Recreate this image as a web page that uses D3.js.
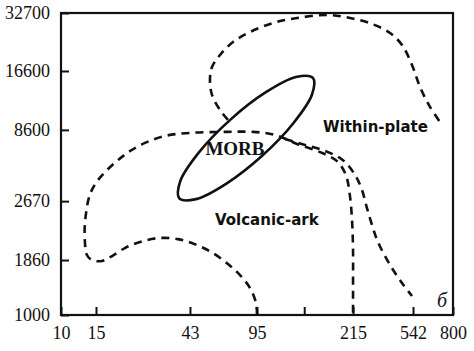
<!DOCTYPE html>
<html>
<head>
<meta charset="utf-8">
<script src="https://cdn.jsdelivr.net/npm/d3@7"></script>
<style>
  body { margin: 0; background: #fff; }
  svg { display: block; }
</style>
</head>
<body>
<div id="chart"></div>
<script>
// Tick values on both axes (the axes are stretched, not log)
const xTickValues = [10, 15, 43, 95, 154, 215, 542, 800];
const xTickLabels = ["10", "15", "43", "95", "", "215", "542", "800"];
const yTickValues = [1000, 1860, 2670, 8600, 16600, 32700];
const yTickLabels = ["1000", "1860", "2670", "8600", "16600", "32700"];

// Field boundaries, [x, y] in axis units
const volcanicArc = [[95, 1000], [94.2, 1188], [89.6, 1422], [81.8, 1625], [72.5, 1797], [60.9, 1956],
  [48.4, 2066], [39.4, 2148], [33.5, 2162], [28.1, 2107], [23.6, 2025], [19.8, 1915], [16.8, 1845],
  [14.4, 1860], [13.7, 1929], [13.4, 2135], [13.4, 2341], [13.6, 2519], [13.9, 2754], [14.4, 3589],
  [15.6, 4424], [18.3, 5256], [21.6, 6094], [25.2, 6846], [29.6, 7514], [35.6, 8099], [43, 8349],
  [71.7, 8433], [91.9, 8433], [117.5, 8180], [145, 7431], [173.75, 6750], [195, 5998], [206, 4842],
  [211, 3171], [213.75, 2406], [215, 1996], [215, 1547], [215, 1000]];
const outerArc = [[130, 7846], [155, 7347], [180, 6848], [202.5, 6081], [225.9, 4842], [264, 3589],
  [291, 2574], [318.6, 2341], [351, 2107], [416.7, 1782], [482, 1500], [536.5, 1297]];
const withinPlate = [[72.5, 9956], [66.3, 11312], [60.1, 13346], [58.5, 15380], [60.1, 17710],
  [66.3, 21041], [76.4, 24650], [89.6, 27426], [115, 29924], [145, 31312], [182.5, 32145],
  [211.25, 31312], [318.6, 29647], [416.7, 27148], [482, 23817], [536.5, 18266], [587, 14431],
  [651.7, 11719], [729, 9278]];
const morb = [[164.9, 15678], [163.6, 13373], [140.4, 9508], [101.4, 6445], [71.3, 4132],
  [47.7, 2837], [39.8, 2904], [40.1, 4324], [49.8, 6706], [74.0, 9929], [105.6, 13685], [143.6, 15786]];

// Field names: text, x, y (axis units), anchor
const fieldLabels = [
  { text: "MORB", x: 77.9, y: 6512, anchor: "middle", cls: "serif" },
  { text: "Within-plate", x: 177.5, y: 8433, anchor: "start", cls: "sans" },
  { text: "Volcanic-ark", x: 62.4, y: 2340, anchor: "start", cls: "sans" },
  { text: "б", x: 697, y: 1125, anchor: "start", cls: "italic" }
];

const width = 474;
const height = 351;
const margin = { top: 13, right: 21, bottom: 36, left: 61 };
const innerW = width - margin.left - margin.right;
const innerH = height - margin.top - margin.bottom;

// where the breakpoints sit along each axis (fraction of plot size)
const xStops = [0, 0.0893, 0.329, 0.5, 0.745, 0.898, 1];
const yStops = [0, 0.182, 0.377, 0.613, 0.808, 1];

const xDomain = xTickValues.filter(v => v !== 154);
const x = d3.scaleLinear()
  .domain(xDomain)
  .range(xStops.map(f => margin.left + f * innerW));

const y = d3.scaleLinear()
  .domain(yTickValues)
  .range(yStops.map(f => margin.top + innerH - f * innerH));

const svg = d3.select("#chart")
  .append("svg")
  .attr("width", width)
  .attr("height", height)
  .style("background-color", "white");

const tickFont = "'Liberation Serif', 'Times New Roman', serif";

// Eixo X
const gx = svg.append("g")
  .attr("transform", `translate(0,${margin.top + innerH})`)
  .call(d3.axisBottom(x)
    .tickValues(xTickValues)
    .tickFormat((d, i) => xTickLabels[i])
    .tickSizeInner(-8)
    .tickSizeOuter(0)
    .tickPadding(11));
gx.select(".domain").remove();
gx.selectAll("line").attr("stroke", "#111").attr("stroke-width", 2);
gx.selectAll("text")
  .style("font-family", tickFont)
  .style("font-size", "18px")
  .attr("fill", "#111");

// Eixo Y
const gy = svg.append("g")
  .attr("transform", `translate(${margin.left},0)`)
  .call(d3.axisLeft(y)
    .tickValues(yTickValues)
    .tickFormat((d, i) => yTickLabels[i])
    .tickSizeInner(-8)
    .tickSizeOuter(0)
    .tickPadding(11));
gy.select(".domain").remove();
gy.selectAll("line").attr("stroke", "#111").attr("stroke-width", 2);
gy.selectAll("text")
  .style("font-family", tickFont)
  .style("font-size", "18px")
  .attr("fill", "#111");

// Moldura
svg.append("rect")
  .attr("x", margin.left)
  .attr("y", margin.top)
  .attr("width", innerW)
  .attr("height", innerH)
  .attr("fill", "none")
  .attr("stroke", "#111")
  .attr("stroke-width", 2.2);

const line = d3.line()
  .x(d => x(d[0]))
  .y(d => y(d[1]))
  .curve(d3.curveCatmullRom.alpha(0.5));

// Limites tracejados
[volcanicArc, outerArc, withinPlate].forEach(pts => {
  svg.append("path")
    .datum(pts)
    .attr("d", line)
    .attr("fill", "none")
    .attr("stroke", "#111")
    .attr("stroke-width", 2.6)
    .attr("stroke-dasharray", "8,6");
});

// Elipse MORB
svg.append("path")
  .datum(morb)
  .attr("d", d3.line()
    .x(d => x(d[0]))
    .y(d => y(d[1]))
    .curve(d3.curveCatmullRomClosed.alpha(0.5)))
  .attr("fill", "none")
  .attr("stroke", "#111")
  .attr("stroke-width", 2.6);

// Rótulos dos campos
svg.selectAll(".field")
  .data(fieldLabels)
  .enter()
  .append("text")
  .attr("class", "field")
  .attr("x", d => x(d.x))
  .attr("y", d => y(d.y))
  .attr("text-anchor", d => d.anchor)
  .attr("fill", "#111")
  .style("font-family", d => d.cls === "sans" ? "'DejaVu Sans', sans-serif" : tickFont)
  .style("font-weight", d => d.cls === "italic" ? "normal" : "bold")
  .style("font-style", d => d.cls === "italic" ? "italic" : "normal")
  .style("font-size", d => d.cls === "sans" ? "15px" : d.cls === "serif" ? "19px" : "20px")
  .text(d => d.text);
</script>
</body>
</html>
